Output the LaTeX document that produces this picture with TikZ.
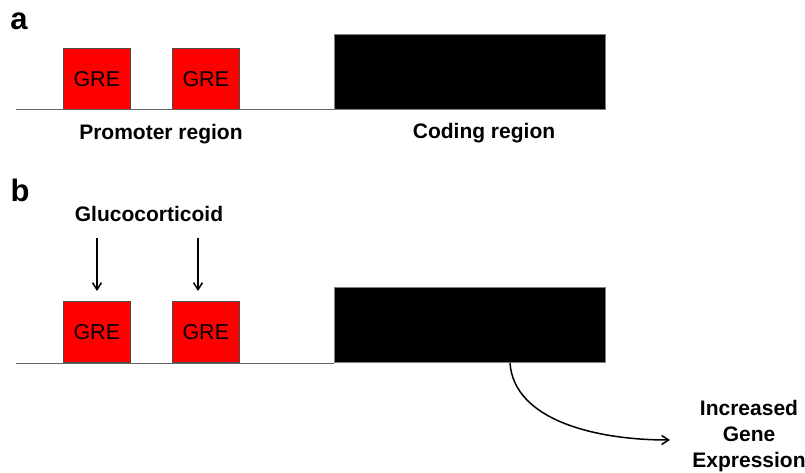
\documentclass[tikz,border=0pt]{standalone}
\usepackage{fontspec}
\setmainfont{Liberation Sans}
\usetikzlibrary{arrows.meta}
\begin{document}
\begin{tikzpicture}[x=1pt,y=-1pt,
  gre/.style={draw=black!70, line width=0.6pt, fill=red, minimum width=67pt, minimum height=61pt, inner sep=0pt, font=\fontsize{21.5}{24}\selectfont, text=black},
  coding/.style={draw=black!50, line width=0.6pt, fill=black, minimum width=271pt, minimum height=75pt, inner sep=0pt},
  lbl/.style={font=\bfseries\fontsize{21}{24}\selectfont, inner sep=0pt},
  panel/.style={font=\bfseries\fontsize{31}{33}\selectfont, inner sep=0pt},
  dna/.style={draw=black!60, line width=1pt},
  arr/.style={draw=black, line width=1.5pt, -{Straight Barb[length=7pt,width=9pt]}}
]
\useasboundingbox (0,0) rectangle (805,473);
% panel a
\node[panel] (pa) at (19,21) {a};
\coordinate (la) at (16,110);
\node[gre, anchor=south west] (ga1) at (63,110) {GRE};
\node[gre, anchor=south west] (ga2) at (172,110) {GRE};
\node[coding, anchor=south west] (ca) at (334,110) {};
\draw[dna] (la) -- (ca.south west);
\node[lbl] (prom) at (161,134) {Promoter region};
\node[lbl] (cod) at (484,133) {Coding region};
% panel b
\node[panel] (pb) at (20,190) {b};
\coordinate (lb) at (16,363);
\node[gre, anchor=south west] (gb1) at (63,363) {GRE};
\node[gre, anchor=south west] (gb2) at (172,363) {GRE};
\node[coding, anchor=south west] (cb) at (334,363) {};
\draw[dna] (lb) -- (cb.south west);
\node[lbl] (gc) at (149,214) {Glucocorticoid};
\coordinate (a1s) at (97,238);
\coordinate (a2s) at (198,238);
\draw[arr] (a1s) -- (a1s |- 0,291);
\draw[arr] (a2s) -- (a2s |- 0,291);
\coordinate (cs) at (510,363);
\node[lbl, align=center, font=\bfseries\fontsize{21}{26}\selectfont, anchor=base] (ige) at (749,467) {Increased\\Gene\\Expression};
\draw[arr] (cs) .. controls (514,420) and (595,440) .. (670,440);
\end{tikzpicture}
\end{document}
